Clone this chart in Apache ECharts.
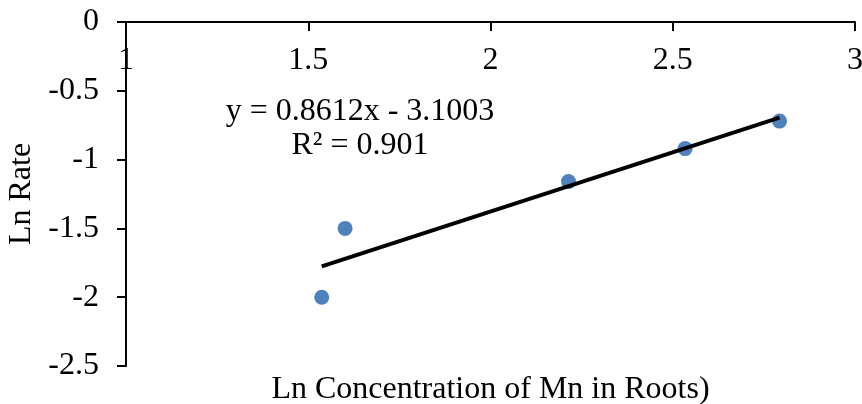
<!DOCTYPE html>
<html>
<head>
<meta charset="utf-8">
<script src="https://cdn.jsdelivr.net/npm/echarts@6/dist/echarts.min.js"></script>
<style>
  html, body { margin: 0; padding: 0; background: #fff; }
  #chart { width: 862px; height: 404px; }
</style>
</head>
<body>
<div id="chart"></div>
<script>
// data
var lnConc = [1.537, 1.601, 2.214, 2.534, 2.793];
var lnRate = [-2.00, -1.50, -1.16, -0.92, -0.72];
// trendline from the printed equation
var slope = 0.8612;
var intercept = -3.1003;
var eqLine = 'y = 0.8612x - 3.1003';
var r2Line = 'R² = 0.901';

var font = "'Liberation Serif', 'Times New Roman', serif";
var fs = 32;

var points = lnConc.map(function (x, i) { return [x, lnRate[i]]; });
var xMin = Math.min.apply(null, lnConc);
var xMax = Math.max.apply(null, lnConc);
var trend = [[xMin, slope * xMin + intercept], [xMax, slope * xMax + intercept]];

var chart = echarts.init(document.getElementById('chart'));
chart.setOption({
    animation: false,
    grid: { left: 126, right: 7, top: 22, bottom: 38, outerBoundsMode: 'none' },
    xAxis: [{
        type: 'value',
        position: 'top',
        min: 1, max: 3, interval: 0.5,
        axisLine: { lineStyle: { color: '#000', width: 2 } },
        axisTick: { inside: true, length: 9, lineStyle: { color: '#000', width: 2 } },
        axisLabel: { inside: true, margin: 23, color: '#000', fontFamily: font, fontSize: fs },
        splitLine: { show: false }
    }, {
        type: 'value',
        position: 'bottom',
        min: 1, max: 3,
        name: 'Ln Concentration of Mn in Roots)',
        nameLocation: 'middle',
        nameGap: 8,
        nameTextStyle: { color: '#000', fontFamily: font, fontSize: fs, verticalAlign: 'top' },
        axisLine: { show: false },
        axisTick: { show: false },
        axisLabel: { show: false },
        splitLine: { show: false }
    }],
    yAxis: {
        type: 'value',
        min: -2.5, max: 0, interval: 0.5,
        name: 'Ln Rate',
        nameLocation: 'middle',
        nameGap: 87,
        nameTextStyle: { color: '#000', fontFamily: font, fontSize: fs },
        axisLine: { show: true, lineStyle: { color: '#000', width: 2 } },
        axisTick: { show: true, length: 9, lineStyle: { color: '#000', width: 2 } },
        axisLabel: { margin: 27, color: '#000', fontFamily: font, fontSize: fs },
        splitLine: { show: false }
    },
    series: [{
        type: 'scatter',
        data: points,
        symbolSize: 15,
        itemStyle: { color: '#4f81bd', opacity: 1 },
        z: 3
    }, {
        type: 'line',
        data: trend,
        showSymbol: false,
        lineStyle: { color: '#000', width: 4 },
        z: 4
    }],
    graphic: [{
        type: 'text',
        x: 360,
        y: 112,
        style: {
            text: eqLine,
            align: 'center',
            verticalAlign: 'middle',
            fontFamily: font,
            fontSize: fs,
            fill: '#000'
        }
    }, {
        type: 'text',
        x: 360,
        y: 146,
        style: {
            text: r2Line,
            align: 'center',
            verticalAlign: 'middle',
            fontFamily: font,
            fontSize: fs,
            fill: '#000'
        }
    }]
});
</script>
</body>
</html>
